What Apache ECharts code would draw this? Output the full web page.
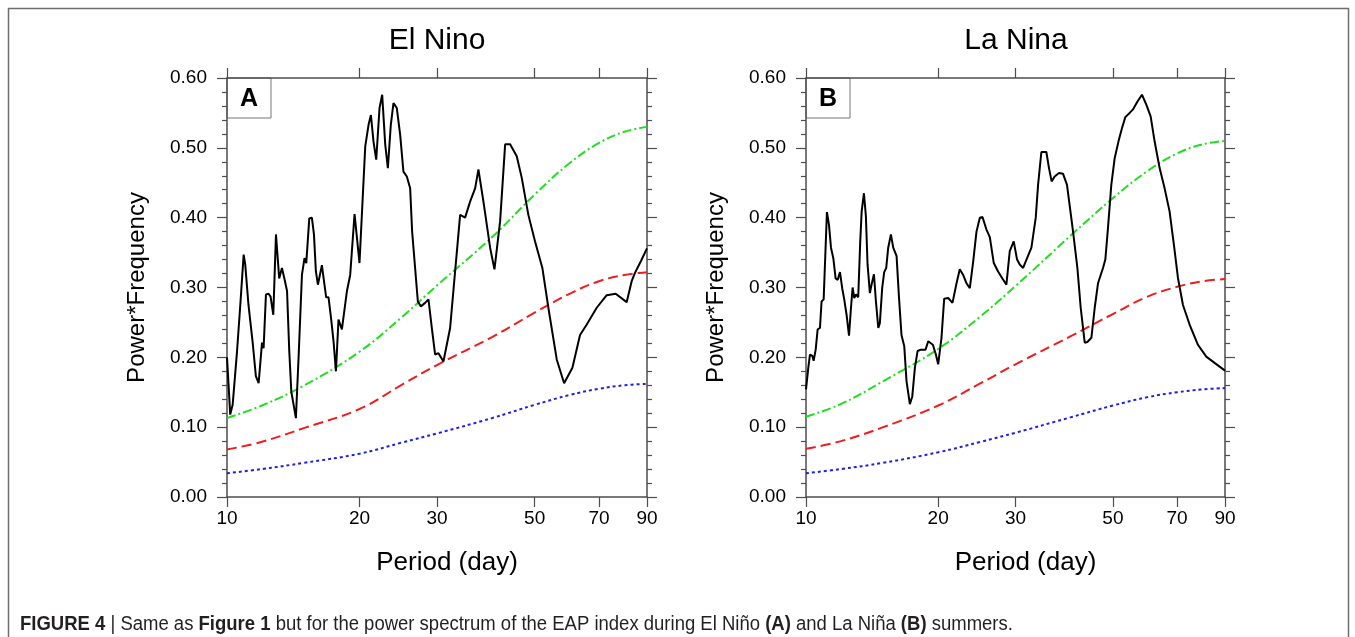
<!DOCTYPE html>
<html>
<head>
<meta charset="utf-8">
<script src="https://cdn.jsdelivr.net/npm/echarts@6/dist/echarts.min.js"></script>
<style>
  html, body { margin: 0; padding: 0; background: #fff; }
  #chart { width: 1355px; height: 637px; }
</style>
</head>
<body>
<div id="chart"></div>
<script>
// period (day) tick labels on the log axis
const xTicks = [10, 20, 30, 50, 70, 90];

// El Nino spectrum (period, power*frequency)
const periodA = [10.00, 10.17, 10.30, 10.54, 10.72, 10.91, 11.00, 11.19, 11.43, 11.63, 11.80, 12.01, 12.11, 12.26, 12.43,
  12.56, 12.74, 12.92, 13.14, 13.33, 13.52, 13.69, 13.85, 14.00, 14.17, 14.34, 14.54, 14.80, 15.00, 15.14, 15.38, 15.59,
  15.76, 15.92, 16.09, 16.43, 16.57, 16.80, 17.01, 17.25, 17.46, 17.68, 17.92, 18.24, 18.73, 19.05, 19.49, 20.00, 20.61,
  20.97, 21.23, 21.52, 21.83, 22.21, 22.52, 22.88, 23.20, 23.56, 23.89, 24.31, 24.74, 25.17, 25.62, 26.07, 26.34, 27.14,
  27.57, 28.19, 28.69, 29.20, 29.71, 30.23, 31.03, 32.13, 32.98, 33.86, 34.75, 35.67, 36.62, 37.26, 38.25, 39.61, 40.52,
  41.74, 42.85, 43.98, 45.53, 46.74, 48.38, 50.11, 52.06, 53.72, 56.13, 58.33, 60.92, 63.40, 65.67, 69.18, 72.90, 76.40,
  80.92, 83.06, 84.51, 87.20, 90.00];
const powerA = [0.200, 0.118, 0.132, 0.209, 0.275, 0.347, 0.333, 0.275, 0.223, 0.173, 0.163, 0.221, 0.213, 0.290, 0.291,
  0.287, 0.261, 0.376, 0.313, 0.328, 0.311, 0.295, 0.209, 0.151, 0.132, 0.113, 0.199, 0.318, 0.342, 0.335, 0.399, 0.400,
  0.376, 0.323, 0.304, 0.332, 0.314, 0.286, 0.286, 0.254, 0.223, 0.180, 0.254, 0.240, 0.295, 0.318, 0.405, 0.335, 0.502,
  0.533, 0.547, 0.509, 0.483, 0.557, 0.576, 0.505, 0.471, 0.533, 0.564, 0.557, 0.519, 0.466, 0.459, 0.442, 0.380, 0.280,
  0.273, 0.278, 0.283, 0.242, 0.204, 0.206, 0.194, 0.242, 0.323, 0.404, 0.400, 0.423, 0.442, 0.469, 0.423, 0.357, 0.326,
  0.395, 0.505, 0.505, 0.488, 0.457, 0.404, 0.366, 0.328, 0.271, 0.197, 0.163, 0.185, 0.232, 0.247, 0.271, 0.289, 0.291,
  0.279, 0.309, 0.321, 0.338, 0.356];

// La Nina spectrum
const periodB = [10.00, 10.12, 10.21, 10.34, 10.41, 10.52, 10.63, 10.76, 10.85, 10.97, 11.16, 11.28, 11.40, 11.54, 11.68,
  11.81, 11.95, 12.09, 12.22, 12.37, 12.53, 12.66, 12.77, 12.88, 13.00, 13.15, 13.29, 13.39, 13.55, 13.69, 13.81, 13.98,
  14.10, 14.28, 14.43, 14.61, 14.73, 14.91, 15.07, 15.23, 15.39, 15.61, 15.80, 16.08, 16.28, 16.50, 16.74, 16.94, 17.24,
  17.46, 17.70, 17.95, 18.27, 18.72, 18.98, 19.18, 19.45, 19.76, 20.00, 20.35, 20.64, 21.08, 21.56, 22.02, 22.40, 22.80,
  23.20, 23.61, 24.03, 24.45, 24.88, 25.23, 25.76, 26.22, 26.77, 27.38, 28.01, 28.60, 29.11, 29.72, 30.25, 30.67, 31.22,
  31.88, 32.61, 33.36, 33.77, 34.36, 35.27, 35.76, 36.26, 36.84, 37.68, 38.48, 39.30, 40.57, 41.50, 42.23, 43.13, 43.73,
  44.66, 45.45, 46.24, 47.47, 48.05, 48.72, 49.58, 50.46, 51.52, 52.43, 53.36, 54.58, 55.55, 56.83, 58.23, 59.57, 60.94,
  62.23, 63.88, 65.57, 67.30, 68.85, 70.31, 72.19, 74.75, 78.09, 81.58, 85.21, 90.00];
const powerB = [0.154, 0.185, 0.204, 0.202, 0.195, 0.211, 0.240, 0.242, 0.280, 0.283, 0.408, 0.390, 0.357, 0.342, 0.313,
  0.311, 0.322, 0.299, 0.283, 0.261, 0.231, 0.271, 0.300, 0.285, 0.290, 0.286, 0.366, 0.409, 0.435, 0.402, 0.333, 0.292,
  0.304, 0.319, 0.280, 0.242, 0.249, 0.299, 0.322, 0.328, 0.357, 0.376, 0.357, 0.345, 0.287, 0.232, 0.216, 0.166, 0.133,
  0.144, 0.185, 0.209, 0.211, 0.211, 0.223, 0.224, 0.218, 0.204, 0.190, 0.228, 0.284, 0.285, 0.278, 0.306, 0.326, 0.318,
  0.306, 0.299, 0.337, 0.380, 0.400, 0.401, 0.383, 0.372, 0.335, 0.323, 0.313, 0.304, 0.352, 0.366, 0.340, 0.333, 0.328,
  0.342, 0.357, 0.400, 0.447, 0.494, 0.494, 0.471, 0.452, 0.459, 0.464, 0.463, 0.447, 0.380, 0.328, 0.271, 0.221, 0.222,
  0.228, 0.271, 0.306, 0.328, 0.340, 0.385, 0.447, 0.485, 0.510, 0.528, 0.544, 0.550, 0.555, 0.566, 0.576, 0.562, 0.545,
  0.509, 0.471, 0.442, 0.409, 0.361, 0.314, 0.275, 0.247, 0.218, 0.201, 0.192, 0.181];

// red-noise reference curves, read at these periods
const refPeriods = [10, 12, 15, 20, 25, 30, 40, 50, 60, 70, 80, 90];
const greenA = [0.113, 0.131, 0.160, 0.208, 0.258, 0.303, 0.372, 0.433, 0.478, 0.507, 0.523, 0.530];
const redA   = [0.068, 0.079, 0.099, 0.126, 0.161, 0.189, 0.229, 0.264, 0.291, 0.309, 0.318, 0.322];
const blueA  = [0.034, 0.040, 0.049, 0.062, 0.078, 0.091, 0.113, 0.132, 0.146, 0.155, 0.160, 0.162];
const greenB = [0.115, 0.133, 0.166, 0.212, 0.259, 0.302, 0.374, 0.428, 0.467, 0.492, 0.505, 0.510];
const redB   = [0.069, 0.080, 0.100, 0.131, 0.163, 0.190, 0.230, 0.262, 0.287, 0.301, 0.309, 0.312];
const blueB  = [0.034, 0.040, 0.049, 0.064, 0.079, 0.092, 0.114, 0.131, 0.143, 0.150, 0.154, 0.156];

const FONT = '"Liberation Sans", Arial, Helvetica, sans-serif';
const AXIS_COLOR = '#4d4d4d';

const zip = (xs, ys) => xs.map((x, i) => [x, ys[i]]);

const grids = [
  { left: 227, right: 708, top: 78, bottom: 140 },
  { left: 806, right: 130, top: 78, bottom: 140 },
];

const axisLine = { show: true, onZero: false, lineStyle: { color: AXIS_COLOR, width: 1.5 } };
const tickStyle = { color: AXIS_COLOR, width: 1.2 };

function xAxes(g) {
  return [{
    type: 'log', logBase: 10, gridIndex: g, position: 'bottom', min: 10, max: 90,
    name: 'Period (day)', nameLocation: 'middle', nameGap: 53,
    // NCL puts the axis title a little right of centre
    nameTextStyle: { fontSize: 26, color: '#000', fontFamily: FONT, padding: [0, 0, 0, 20] },
    axisLine,
    axisTick: { show: true, customValues: xTicks, length: 10, lineStyle: tickStyle },
    axisLabel: { customValues: xTicks, fontSize: 19, color: '#000', fontFamily: FONT, margin: 12 },
    minorTick: { show: false }, splitLine: { show: false },
  }, {
    type: 'log', logBase: 10, gridIndex: g, position: 'top', min: 10, max: 90,
    axisLine,
    axisTick: { show: true, customValues: xTicks, length: 10, lineStyle: tickStyle },
    axisLabel: { show: false },
    minorTick: { show: false }, splitLine: { show: false },
  }];
}

function yAxes(g) {
  const base = {
    type: 'value', gridIndex: g, min: 0, max: 0.6, interval: 0.1,
    axisLine,
    axisTick: { show: true, length: 10, lineStyle: tickStyle },
    minorTick: { show: true, splitNumber: 5, length: 5, lineStyle: tickStyle },
    splitLine: { show: false },
  };
  return [{
    ...base, position: 'left',
    name: 'Power*Frequency', nameLocation: 'middle', nameGap: 78,
    nameTextStyle: { fontSize: 24, color: '#000', fontFamily: FONT },
    axisLabel: { formatter: v => v.toFixed(2), fontSize: 19, color: '#000', fontFamily: FONT, margin: 20 },
  }, {
    ...base, position: 'right',
    axisLabel: { show: false },
  }];
}

function panelSeries(g, period, power, green, red, blue) {
  const common = { type: 'line', xAxisIndex: g * 2, yAxisIndex: g * 2, showSymbol: false, animation: false, silent: true };
  return [
    { ...common, smooth: 0.4, data: zip(refPeriods, blue), lineStyle: { color: '#1f1fe8', width: 2, type: [3, 3] } },
    { ...common, smooth: 0.4, data: zip(refPeriods, red), lineStyle: { color: '#ee1c1c', width: 2, type: [10, 5] } },
    { ...common, smooth: 0.4, data: zip(refPeriods, green), lineStyle: { color: '#22dd22', width: 2, type: [9, 3, 2, 3] } },
    { ...common, data: zip(period, power), lineStyle: { color: '#000', width: 2 } },
  ];
}

function panelLabel(x, letter) {
  return {
    type: 'group', x, y: 78,
    children: [
      { type: 'rect', shape: { x: 0, y: 0, width: 44, height: 40 }, style: { fill: '#fff', stroke: '#777', lineWidth: 1 } },
      { type: 'text', x: 22, y: 21, style: { text: letter, fontSize: 25, fontWeight: 'bold', fontFamily: FONT, fill: '#000', align: 'center', verticalAlign: 'middle' } },
    ],
  };
}

function title(x, text) {
  return { type: 'text', x, y: 41, style: { text, fontSize: 30, fontFamily: FONT, fill: '#000', align: 'center', verticalAlign: 'middle' } };
}

const chart = echarts.init(document.getElementById('chart'), null, { renderer: 'canvas' });
chart.setOption({
  backgroundColor: '#fff',
  animation: false,
  grid: grids,
  xAxis: [...xAxes(0), ...xAxes(1)],
  yAxis: [...yAxes(0), ...yAxes(1)],
  series: [
    ...panelSeries(0, periodA, powerA, greenA, redA, blueA),
    ...panelSeries(1, periodB, powerB, greenB, redB, blueB),
  ],
  graphic: [
    { type: 'rect', shape: { x: 8.5, y: 8.5, width: 1340, height: 700 }, style: { fill: 'none', stroke: '#6e6e6e', lineWidth: 1.5 }, z: 0 },
    title(437, 'El Nino'),
    title(1016, 'La Nina'),
    panelLabel(227, 'A'),
    panelLabel(806, 'B'),
    {
      // caption set in a condensed face in the original: squeeze the text horizontally
      type: 'text', x: 20, y: 624, scaleX: 0.925,
      style: {
        text: '{b|FIGURE 4} | Same as {b|Figure 1} but for the power spectrum of the EAP index during El Niño {b|(A)} and La Niña {b|(B)} summers.',
        fontSize: 20, fontFamily: FONT, fill: '#231f20',
        verticalAlign: 'middle',
        rich: { b: { fontWeight: 'bold', fontSize: 20, fontFamily: FONT, fill: '#231f20' } },
      },
    },
  ],
});
</script>
</body>
</html>
